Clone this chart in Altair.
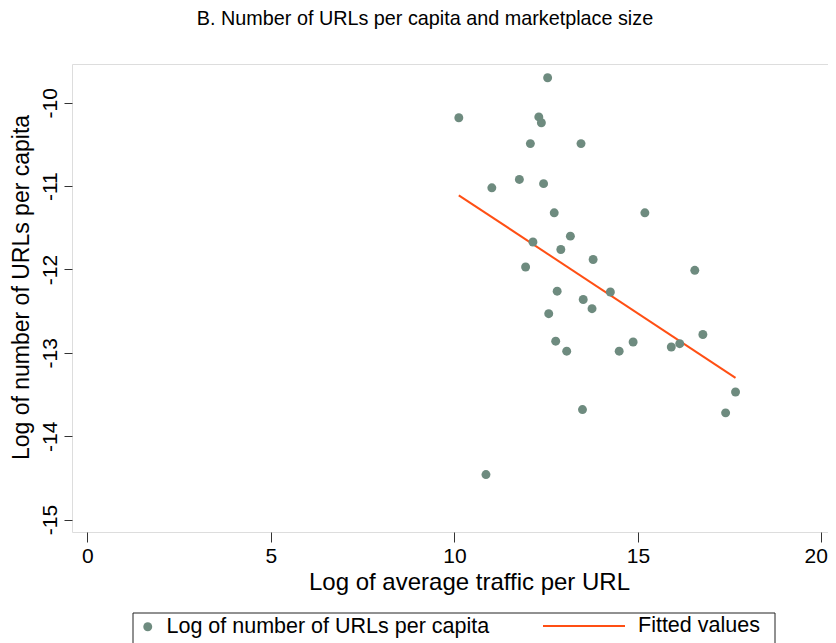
import altair as alt
import pandas as pd

# Scatter data
log_traffic = [10.12, 12.54, 12.30, 12.37, 12.07, 13.45, 11.02, 11.77, 12.43, 12.72,
               13.16, 12.14, 12.90, 13.78, 11.94, 12.80, 14.25, 13.51, 13.75, 12.57,
               12.76, 13.06, 14.49, 13.49, 10.86, 15.19, 16.55, 16.77, 14.87, 15.91,
               16.14, 17.66, 17.39]
log_urls = [-10.18, -9.70, -10.17, -10.24, -10.49, -10.49, -11.02, -10.92, -10.97, -11.32,
            -11.60, -11.67, -11.76, -11.88, -11.97, -12.26, -12.27, -12.36, -12.47, -12.53,
            -12.86, -12.98, -12.98, -13.68, -14.46, -11.32, -12.01, -12.78, -12.87, -12.93,
            -12.89, -13.47, -13.72]

# Fitted line end points
fit_x = [10.12, 17.66]
fit_y = [-11.11, -13.30]

series_pts = "Log of number of URLs per capita"
series_fit = "Fitted values"

x_ticks = [0, 5, 10, 15, 20]
y_ticks = [-15, -14, -13, -12, -11, -10]

FONT = "Liberation Sans"
GREEN = "#6e8b7f"
ORANGE = "#ff4f14"

pts = pd.DataFrame({"x": log_traffic, "y": log_urls, "s": series_pts})
fit = pd.DataFrame({"x": fit_x, "y": fit_y, "s": series_fit})

W, H = 756, 468
xs = alt.Scale(domain=[-0.42, 20.18], nice=False, zero=False)
ys = alt.Scale(domain=[-15.149, -9.535], nice=False, zero=False)

x_axis = alt.Axis(values=x_ticks, title="Log of average traffic per URL", grid=False,
                  domain=False, tickSize=10, tickColor="#333", labelFontSize=21,
                  labelFont=FONT, labelColor="black", labelPadding=3,
                  labelExpr="'' + datum.value",
                  labelAlign={"condition": {"test": "datum.value === 20", "value": "right"},
                              "value": "center"},
                  labelOffset={"condition": {"test": "datum.value === 20", "value": 6},
                               "value": 0},
                  titleFont=FONT, titleFontSize=24, titleFontWeight="normal",
                  titleColor="black", titlePadding=4, titleX=397)
y_axis = alt.Axis(values=y_ticks, title="Log of number of URLs per capita", grid=False,
                  domain=False, tickSize=8, tickColor="#333", labelFontSize=21,
                  labelFont=FONT, labelColor="black", labelAngle=270,
                  labelAlign="center", labelBaseline="bottom", labelPadding=4,
                  labelExpr="'' + datum.value",
                  titleFont=FONT, titleFontSize=23, titleFontWeight="normal",
                  titleColor="black", titlePadding=6, titleY=223)

points = alt.Chart(pts).mark_circle(size=80, opacity=1).encode(
    x=alt.X("x:Q", scale=xs, axis=x_axis),
    y=alt.Y("y:Q", scale=ys, axis=y_axis),
    color=alt.Color("s:N", scale=alt.Scale(domain=[series_pts], range=[GREEN]),
                    legend=alt.Legend(title=None, orient="none", legendX=65, legendY=552,
                                      symbolType="circle", symbolSize=80,
                                      labelFont=FONT, labelFontSize=21.5, labelColor="black",
                                      labelOffset=8, padding=0, labelLimit=600)),
)

line = alt.Chart(fit).mark_line(strokeWidth=2).encode(
    x="x:Q",
    y="y:Q",
    stroke=alt.Stroke("s:N", scale=alt.Scale(domain=[series_fit], range=[ORANGE]),
                      legend=alt.Legend(title=None, orient="none", legendX=470, legendY=520,
                                        symbolType="stroke", symbolSize=6724,
                                        symbolStrokeWidth=2,
                                        labelFont=FONT, labelFontSize=21.5, labelColor="black",
                                        labelOffset=12, padding=0, labelLimit=600)),
)

box = alt.Chart(pd.DataFrame({"a": [0]})).mark_rect(
    fill="white", fillOpacity=0, stroke="#222", strokeWidth=1
).encode(x=alt.value(61), x2=alt.value(703), y=alt.value(549), y2=alt.value(640))

chart = alt.layer(box, line, points).properties(
    width=W, height=H,
    autosize=alt.AutoSizeParams(type="none"),
    padding={"left": 64, "top": 56, "right": 0, "bottom": 120},
    title=alt.TitleParams("B. Number of URLs per capita and marketplace size",
                          font=FONT, fontSize=19.8, fontWeight="normal", color="black",
                          anchor="middle", dx=-25, offset=35),
).configure_view(stroke="#222", strokeWidth=1.2).configure(background="white")

chart.save("out.html", embed_options={"renderer": "svg", "actions": False})
